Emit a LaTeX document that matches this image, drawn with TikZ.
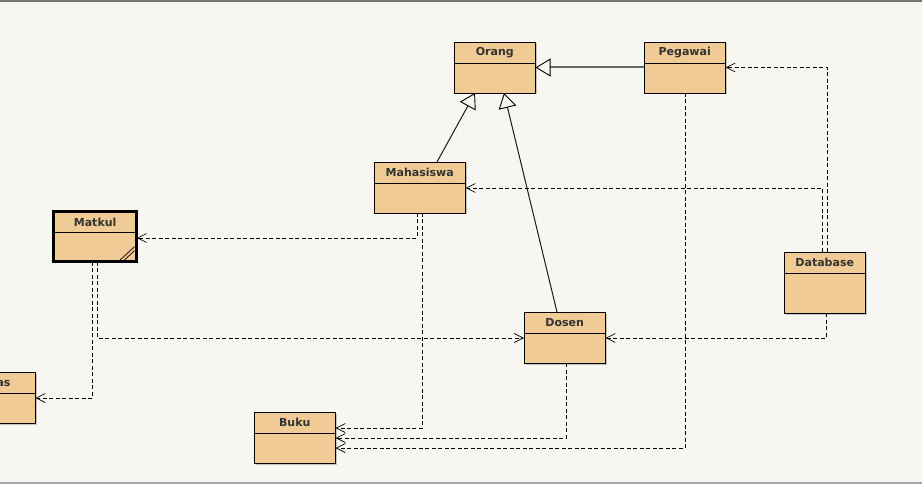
\documentclass[tikz,border=0pt]{standalone}
\usepackage{fontspec}
\setmainfont{DejaVu Sans}
\usetikzlibrary{arrows.meta,shadows,calc}
\definecolor{bg}{HTML}{F7F6F1}
\definecolor{boxc}{HTML}{F0CB95}
\definecolor{txt}{HTML}{333333}
\tikzset{
 clsbox/.style={draw=black, line width=0.9pt, fill=boxc, inner sep=0pt, outer sep=0pt, anchor=north west,
   drop shadow={shadow xshift=1.5pt, shadow yshift=-1.5pt, opacity=0.35, fill=black!60}},
 clstitle/.style={font=\fontsize{11}{13}\selectfont\bfseries, text=txt, inner sep=0pt, anchor=center},
 dep/.style={draw=black, line width=0.8pt, dash pattern=on 4pt off 2.5pt,
   -{Straight Barb[length=9pt,width=9pt,line width=0.7pt]}},
 gen/.style={draw=black!90, line width=1pt,
   -{Triangle[open,length=15pt,width=18pt,fill=bg,color=black,line width=0.9pt]}},
}
\newcommand\umlcls[7][]{%
 \node[clsbox,#1, minimum width={(#5-#3)*1pt}, minimum height={(#6-#4)*1pt}] (#2) at (#3,#4) {};
 \draw[line width=0.9pt] ($(#2.north west)+(0,21)$) -- ($(#2.north east)+(0,21)$);
 \node[clstitle] (#2-t) at ({(#3+#5)/2},#4+10.5) {#7};
}
\begin{document}
\begin{tikzpicture}[x=1pt,y=-1pt]
\clip (0,0) rectangle (922,484);
\fill[bg] (0,0) rectangle (922,484);
\draw[black!55, line width=2.5pt] (0,1.2) -- (922,1.2);
\draw[black!35, line width=3pt] (0,483) -- (922,483);

\umlcls{orang}{454}{42}{535.5}{93}{Orang}
\umlcls{peg}{644}{42}{725.5}{93}{Pegawai}
\umlcls{mhs}{374}{162}{465.5}{213}{Mahasiswa}
\umlcls[line width=3pt]{mk}{53.5}{211.5}{136.8}{261.8}{Matkul}
\draw[line width=0.7pt] (119,261) -- (134.5,246.7);
\draw[line width=0.7pt] (123.3,261) -- (134.5,250.7);
\umlcls{kel}{-48}{372}{35.5}{423}{Kelas}
\umlcls{buku}{254}{412}{335.5}{463}{Buku}
\umlcls{dos}{524}{312}{605.5}{363}{Dosen}
\umlcls{db}{784}{252}{865.5}{313}{Database}

\draw[gen, draw=black!60, line width=2pt] (peg) -- (orang);
\draw[gen] (mhs.north -| 437,0) -- (orang.south -| 475,0);
\draw[gen] (dos.north -| 557,0) -- (orang.south -| 504,0);

\draw[dep] (db.north -| 827,0) |- (peg.east);
\draw[dep] (db.north -| 822,0) |- (mhs.east |- 0,188);
\draw[dep] (db.south -| 826,0) |- (dos.east |- 0,338);
\draw[dep] (mhs.south -| 417,0) |- (mk.east |- 0,238);
\draw[dep] (mhs.south -| 422,0) |- (buku.east |- 0,428);
\draw[dep] (mk.south -| 97,0) |- (dos.west |- 0,338);
\draw[dep] (mk.south -| 92.5,0) |- (kel.east |- 0,398);
\draw[dep] (dos.south -| 566,0) |- (buku.east |- 0,438);
\draw[dep] (peg.south -| 685,0) |- (buku.east |- 0,448);
\end{tikzpicture}
\end{document}
